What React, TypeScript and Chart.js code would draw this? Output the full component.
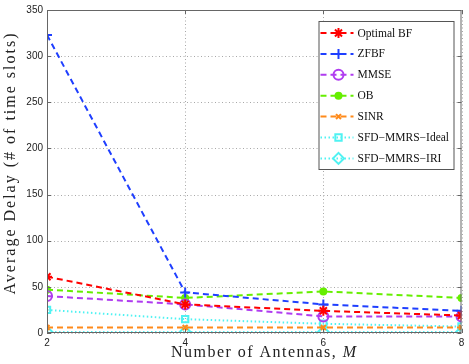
import React, { useEffect, useRef } from 'react';
import { Chart, registerables } from 'chart.js';
import { drawPoint } from 'chart.js/helpers';

Chart.register(...registerables);

const antennas = [2, 4, 6, 8];
const optimalBF = [61, 31, 24, 19];
const zfbf = [323, 44, 31, 24];
const mmse = [40, 31, 18, 18];
const ob = [47, 38, 45, 38];
const sinr = [6, 6, 6, 6];
const sfdIdeal = [25, 15, 10, 7];
const sfdIRI = [1, 1, 1, 1];
const seriesLabels = ['Optimal BF', 'ZFBF', 'MMSE', 'OB', 'SINR', 'SFD\u2212MMRS\u2212Ideal', 'SFD\u2212MMRS\u2212IRI'];
const xTitle = 'Number of Antennas, ';
const xTitleVar = 'M';
const yTitle = 'Average Delay (# of time slots)';

const colors = ['#ff0000', '#1f3fff', '#b03cf0', '#66ee00', '#ff8a1a', '#4ff2f2', '#4ff2f2'];
const styles: any[] = ['star', 'cross', 'circle', 'circle', 'crossRot', 'rect', 'rectRot'];
const radii = [5, 5, 5, 3, 3.5, 4.5, 5.5];
const filled = [false, false, false, true, false, false, false];
const dashes = [[6, 4], [6, 4], [6, 4], [6, 4], [6, 4], [1.5, 2.5], [1.5, 2.5]];
const seriesValues = [optimalBF, zfbf, mmse, ob, sinr, sfdIdeal, sfdIRI];

const SERIF = '"Liberation Serif", "DejaVu Serif", serif';
const SANS = '"Liberation Sans", Arial, sans-serif';

function spacedText(ctx: CanvasRenderingContext2D, text: string, target: number) {
  (ctx as any).letterSpacing = '0px';
  const w = ctx.measureText(text).width;
  const sp = (target - w) / Math.max(1, text.length - 1);
  (ctx as any).letterSpacing = sp + 'px';
  return sp;
}

const gridPlugin = {
  id: 'dottedGrid',
  beforeDatasetsDraw(chart: any) {
    const ctx: CanvasRenderingContext2D = chart.ctx;
    const a = chart.chartArea;
    const xs = chart.scales.x, ys = chart.scales.y;
    ctx.save();
    ctx.strokeStyle = '#a8a8a8';
    ctx.lineWidth = 1;
    ctx.setLineDash([1, 2.5]);
    ctx.beginPath();
    xs.ticks.forEach((t: any) => {
      const px = Math.round(xs.getPixelForValue(t.value)) + 0.5;
      ctx.moveTo(px, a.top); ctx.lineTo(px, a.bottom);
    });
    ys.ticks.forEach((t: any) => {
      const py = Math.round(ys.getPixelForValue(t.value)) + 0.5;
      ctx.moveTo(a.left, py); ctx.lineTo(a.right, py);
    });
    ctx.stroke();
    ctx.restore();
  },
};

const framePlugin = {
  id: 'frameLegendTitles',
  afterDraw(chart: any) {
    const ctx: CanvasRenderingContext2D = chart.ctx;
    const a = chart.chartArea;
    ctx.save();
    ctx.strokeStyle = '#666';
    ctx.lineWidth = 1;
    ctx.setLineDash([]);
    ctx.strokeRect(a.left + 0.5, a.top + 0.5, a.right - a.left - 1, a.bottom - a.top - 1);
    const xs = chart.scales.x, ys = chart.scales.y;
    ctx.beginPath();
    xs.ticks.forEach((t: any) => {
      const px = Math.round(xs.getPixelForValue(t.value)) + 0.5;
      ctx.moveTo(px, a.bottom); ctx.lineTo(px, a.bottom - 4);
      ctx.moveTo(px, a.top); ctx.lineTo(px, a.top + 4);
    });
    ys.ticks.forEach((t: any) => {
      const py = Math.round(ys.getPixelForValue(t.value)) + 0.5;
      ctx.moveTo(a.left, py); ctx.lineTo(a.left + 4, py);
      ctx.moveTo(a.right, py); ctx.lineTo(a.right - 4, py);
    });
    ctx.stroke();

    // legend
    const bx = a.right - 143, by = a.top + 11, bw = 135, bh = 148;
    ctx.fillStyle = '#ffffff';
    ctx.fillRect(bx, by, bw, bh);
    ctx.strokeStyle = '#555';
    ctx.strokeRect(bx + 0.5, by + 0.5, bw, bh);
    chart.data.datasets.forEach((ds: any, i: number) => {
      const y = by + 12 + i * 20.9;
      ctx.save();
      ctx.strokeStyle = ds.borderColor;
      ctx.lineWidth = 2;
      ctx.setLineDash(ds.borderDash);
      ctx.beginPath();
      ctx.moveTo(bx + 2, y); ctx.lineTo(bx + 35, y);
      ctx.stroke();
      ctx.setLineDash([]);
      ctx.strokeStyle = ds.pointBorderColor;
      ctx.fillStyle = ds.pointBackgroundColor;
      ctx.lineWidth = ds.pointBorderWidth;
      drawPoint(ctx, { pointStyle: ds.pointStyle, radius: ds.pointRadius, rotation: 0, borderWidth: ds.pointBorderWidth } as any, bx + 20, y);
      ctx.restore();
      ctx.fillStyle = '#111';
      ctx.font = '11.5px ' + SERIF;
      ctx.textAlign = 'left';
      ctx.textBaseline = 'middle';
      ctx.fillText(ds.label, bx + 39, y + 0.5);
    });

    // x title
    ctx.fillStyle = '#222';
    ctx.textBaseline = 'alphabetic';
    ctx.font = '16px ' + SERIF;
    const full = xTitle + xTitleVar;
    const sp = spacedText(ctx, full, 186);
    const w1 = ctx.measureText(xTitle).width;
    ctx.textAlign = 'left';
    const startX = 171;
    ctx.fillText(xTitle, startX, 357);
    ctx.font = 'italic 16px ' + SERIF;
    (ctx as any).letterSpacing = sp + 'px';
    ctx.fillText(xTitleVar, startX + w1, 357);

    // y title
    ctx.save();
    ctx.translate(14.5, 163);
    ctx.rotate(-Math.PI / 2);
    ctx.font = '16px ' + SERIF;
    spacedText(ctx, yTitle, 261);
    ctx.textAlign = 'center';
    ctx.fillText(yTitle, 0, 0);
    ctx.restore();
    (ctx as any).letterSpacing = '0px';
    ctx.restore();
  },
};

export default function App() {
  const ref = useRef<HTMLCanvasElement>(null);
  useEffect(() => {
    if (!ref.current) return;
    const datasets = seriesValues.map((vals, i) => ({
      label: seriesLabels[i],
      data: antennas.map((x, j) => ({ x, y: vals[j] })),
      borderColor: colors[i],
      backgroundColor: colors[i],
      borderWidth: 2,
      borderDash: dashes[i],
      pointStyle: styles[i],
      pointRadius: radii[i],
      pointBorderColor: colors[i],
      pointBackgroundColor: filled[i] ? colors[i] : 'rgba(0,0,0,0)',
      pointBorderWidth: 2,
      fill: false,
      tension: 0,
    }));
    const chart = new Chart(ref.current, {
      type: 'line',
      data: { datasets },
      options: {
        animation: false,
        responsive: true,
        maintainAspectRatio: false,
        layout: { padding: { left: 0, top: 5, right: 7, bottom: 0 } },
        plugins: { legend: { display: false }, tooltip: { enabled: false }, title: { display: false } },
        scales: {
          x: {
            type: 'linear',
            min: 2,
            max: 8,
            ticks: { stepSize: 2, color: '#222', font: { family: SANS, size: 10 }, padding: 4 },
            grid: { display: false, drawTicks: false },
            border: { display: false },
            afterFit: (s: any) => { s.height = 31; },
          },
          y: {
            min: 0,
            max: 350,
            ticks: { stepSize: 50, color: '#222', font: { family: SANS, size: 10 }, padding: 4 },
            grid: { display: false, drawTicks: false },
            border: { display: false },
            afterFit: (s: any) => { s.width = 47; },
          },
        },
      },
      plugins: [gridPlugin, framePlugin],
    });
    return () => chart.destroy();
  }, []);
  return (
    <div style={{ position: 'absolute', left: 0, top: 0, width: 469, height: 364, background: '#fff' }}>
      <canvas ref={ref} />
    </div>
  );
}
